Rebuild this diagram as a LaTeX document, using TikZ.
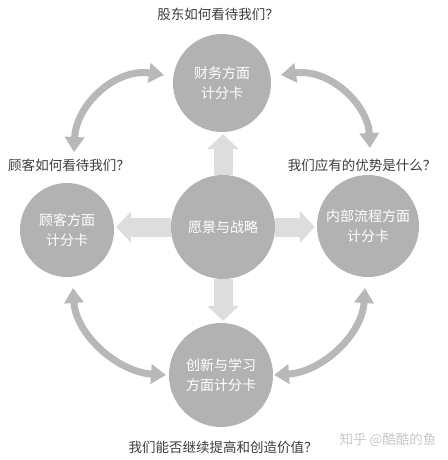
\documentclass[tikz,border=0pt]{standalone}
\usepackage{fontspec}
\newfontfamily\cjk{Noto Sans CJK SC}
\usetikzlibrary{arrows.meta}
\definecolor{circ}{RGB}{178,178,178}
\definecolor{blk}{RGB}{221,221,221}
\definecolor{curv}{RGB}{184,184,184}
\definecolor{lab}{RGB}{60,60,60}
\definecolor{wmc}{RGB}{200,200,200}
\begin{document}
\begin{tikzpicture}[x=1pt,y=-1pt,
  disc/.style={circle, fill=circ, inner sep=0pt, text=white, align=center, font=\cjk\fontsize{14}{20}\selectfont},
  lbl/.style={text=lab, font=\cjk\fontsize{13.5}{16}\selectfont, inner sep=0pt},
  blockarrow/.style={draw=blk, line width=19pt, -{Triangle[width=31pt,length=15pt]}, shorten >=2pt},
  curvearrow/.style={draw=curv, line width=7pt, {Triangle[width=19pt,length=15pt]}-{Triangle[width=19pt,length=15pt]}}
]
\useasboundingbox (0,0) rectangle (447,460);

% circles
\node[disc, minimum size=98pt]  (fin) at (222,83)  {财务方面\\计分卡};
\node[disc, minimum size=104pt] (vis) at (223,227) {愿景与战略};
\node[disc, minimum size=104pt] (inn) at (221,375) {创新与学习\\方面计分卡};
\node[disc, minimum size=94pt]  (cus) at (67,230)  {顾客方面\\计分卡};
\node[disc, minimum size=102pt] (int) at (368,226) {内部流程方面\\计分卡};

% labels
\node[lbl] (lt) at (218,14)  {股东如何看待我们？};
\node[lbl] (ll) at (69,165)  {顾客如何看待我们？};
\node[lbl] (lr) at (362,165) {我们应有的优势是什么？};
\node[lbl] (lb) at (223,447) {我们能否继续提高和创造价值？};
\node[lbl, text=wmc] (wm) at (388,440) {知乎 @酷酷的鱼};

% block arrows from the centre
\draw[blockarrow] (vis.north) -- (vis.north |- fin.south);
\draw[blockarrow] (vis.south) -- (vis.south |- inn.north);
\draw[blockarrow] (vis.west) -- (vis.west -| cus.east);
\draw[blockarrow] (vis.east) -- (vis.east -| int.west);

% curved double arrows
\coordinate (tl1) at (164,75);  \coordinate (tl2) at (74,152);
\coordinate (tr1) at (281,75);  \coordinate (tr2) at (370,148);
\coordinate (bl1) at (73,288);  \coordinate (bl2) at (166,375);
\coordinate (br1) at (365,288); \coordinate (br2) at (274,375);
\draw[curvearrow] (tl1) .. controls (115,68) and (76,105) .. (tl2);
\draw[curvearrow] (tr1) .. controls (330,68) and (368,105) .. (tr2);
\draw[curvearrow] (bl1) .. controls (76,335) and (118,372) .. (bl2);
\draw[curvearrow] (br1) .. controls (362,335) and (322,372) .. (br2);
\end{tikzpicture}
\end{document}
